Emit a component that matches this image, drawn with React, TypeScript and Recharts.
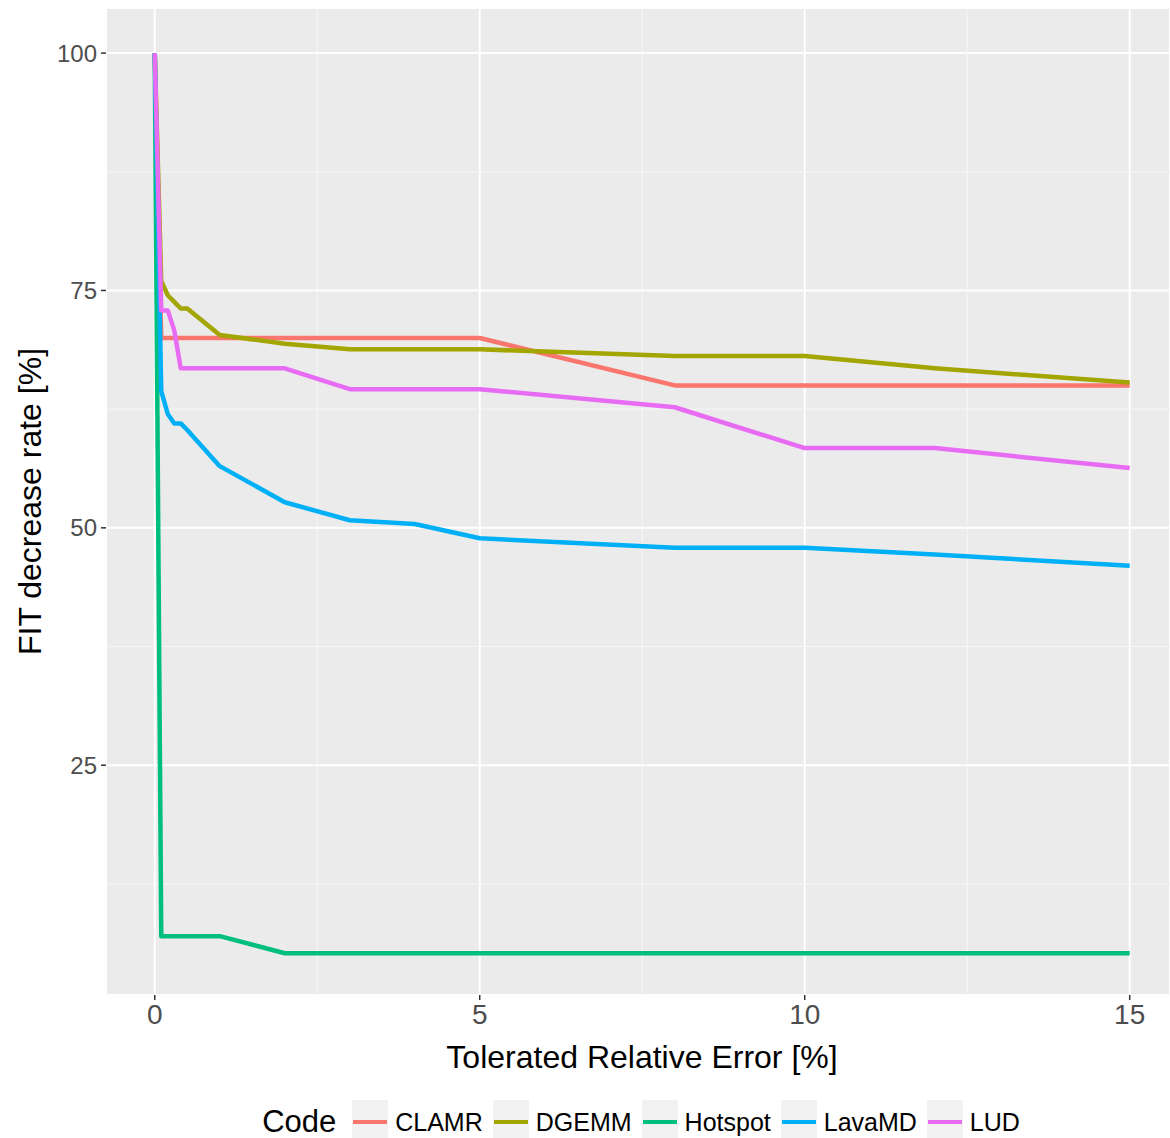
import React from "react";
import {
  LineChart,
  Line,
  XAxis,
  YAxis,
  CartesianGrid,
  ReferenceLine,
} from "recharts";

// Tolerated relative error [%] at which each code was measured
const errorSteps = [0, 0.1, 0.2, 0.3, 0.4, 0.5, 1, 2, 3, 4, 5, 8, 10, 12, 15];

// FIT decrease rate [%] per code
const clamr = [100, 70, 70, 70, 70, 70, 70, 70, 70, 70, 70, 65, 65, 65, 65];
const dgemm = [100, 76, 74.5, 73.8, 73.1, 73.1, 70.3, 69.4, 68.8, 68.8, 68.8, 68.1, 68.1, 66.8, 65.3];
const hotspot = [100, 7, 7, 7, 7, 7, 7, 5.2, 5.2, 5.2, 5.2, 5.2, 5.2, 5.2, 5.2];
const lavamd = [100, 64.4, 62, 61, 61, 60.3, 56.5, 52.7, 50.8, 50.4, 48.9, 47.9, 47.9, 47.2, 46];
const lud = [100, 72.9, 72.9, 70.8, 66.8, 66.8, 66.8, 66.8, 64.6, 64.6, 64.6, 62.7, 58.4, 58.4, 56.3];

const xTicks = [0, 5, 10, 15];
const yTicks = [25, 50, 75, 100];
const xMinor = [2.5, 7.5, 12.5];
const yMinor = [12.5, 37.5, 62.5, 87.5];

const series = [
  { key: "CLAMR", values: clamr, color: "#F8766D" },
  { key: "DGEMM", values: dgemm, color: "#A3A500" },
  { key: "Hotspot", values: hotspot, color: "#00BF7D" },
  { key: "LavaMD", values: lavamd, color: "#00B0F6" },
  { key: "LUD", values: lud, color: "#E76BF3" },
];

const chartData = errorSteps.map((x, i) => {
  const row: Record<string, number | null> = { x };
  series.forEach((s) => {
    row[s.key] = s.values[i];
  });
  return row;
});

const FONT = '"Liberation Sans", Arial, Helvetica, sans-serif';

export default function App() {
  return (
    <div style={{ width: 1170, height: 1138, background: "#fff", fontFamily: FONT }}>
      <style>{`body{margin:0;}`}</style>
      <LineChart
        width={1170}
        height={1090}
        data={chartData}
        margin={{ top: 8, right: 0, left: 0, bottom: 0 }}
      >
        <CartesianGrid fill="#EBEBEB" stroke="#FFFFFF" strokeWidth={2} />
        {xMinor.map((v) => (
          <ReferenceLine key={`vx-${v}`} x={v} stroke="#F7F7F7" strokeWidth={1} />
        ))}
        {yMinor.map((v) => (
          <ReferenceLine key={`hy-${v}`} y={v} stroke="#F7F7F7" strokeWidth={1} />
        ))}
        <XAxis
          dataKey="x"
          type="number"
          domain={[-0.75, 15.62]}
          ticks={xTicks}
          allowDataOverflow
          height={95}
          axisLine={false}
          tickSize={5}
          tickMargin={4}
          tickLine={{ stroke: "#333333", strokeWidth: 1.5 }}
          tick={{ fill: "#4D4D4D", fontSize: 28, fontFamily: FONT }}
          label={{
            value: "Tolerated Relative Error [%]",
            position: "insideBottom",
            offset: 22,
            dx: 4,
            fill: "#000",
            fontSize: 32,
            fontFamily: FONT,
          }}
        />
        <YAxis
          type="number"
          domain={[0.8, 104.75]}
          ticks={yTicks}
          allowDataOverflow
          width={106}
          axisLine={false}
          tickSize={5}
          tickMargin={4}
          tickLine={{ stroke: "#333333", strokeWidth: 1.5 }}
          tick={{ fill: "#4D4D4D", fontSize: 24, fontFamily: FONT }}
          label={{
            value: "FIT decrease rate [%]",
            angle: -90,
            position: "insideLeft",
            offset: 0,
            dx: 30,
            fill: "#000",
            fontSize: 32,
            fontFamily: FONT,
            style: { textAnchor: "middle" },
          }}
        />
        {series.map((s) => (
          <Line
            key={s.key}
            dataKey={s.key}
            type="linear"
            stroke={s.color}
            strokeWidth={4.5}
            strokeLinejoin="round"
            dot={false}
            connectNulls
            isAnimationActive={false}
          />
        ))}
      </LineChart>
      <div
        style={{
          height: 48,
          marginTop: 8,
          display: "flex",
          alignItems: "center",
          justifyContent: "center",
          paddingLeft: 122,
        }}
      >
        <span style={{ fontSize: 31, marginRight: 16, color: "#000" }}>Code</span>
        {series.map((s) => (
          <span key={s.key} style={{ display: "flex", alignItems: "center", marginRight: 10 }}>
            <span
              style={{
                width: 36,
                height: 44,
                background: "#F2F2F2",
                display: "flex",
                alignItems: "center",
                justifyContent: "center",
              }}
            >
              <span style={{ width: 34, height: 4.5, background: s.color }} />
            </span>
            <span style={{ fontSize: 25, marginLeft: 7, color: "#000" }}>{s.key}</span>
          </span>
        ))}
      </div>
    </div>
  );
}
